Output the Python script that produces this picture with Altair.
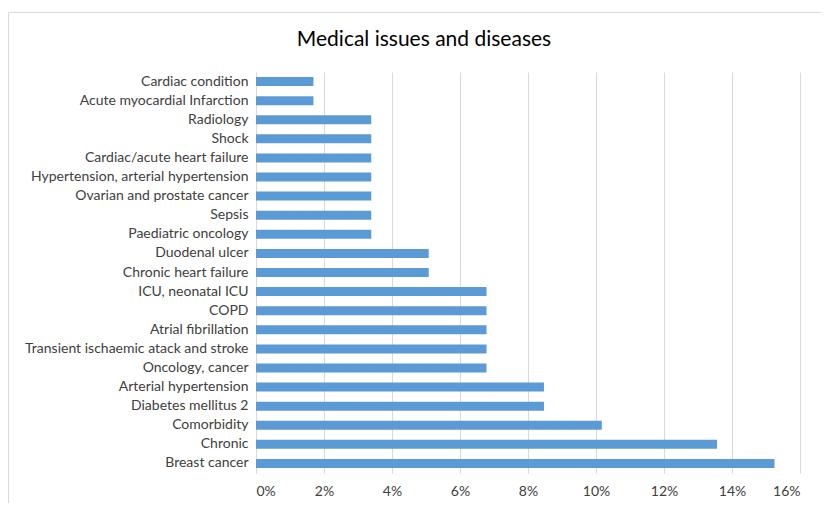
import altair as alt
import pandas as pd

categories = [
    "Cardiac condition",
    "Acute myocardial Infarction",
    "Radiology",
    "Shock",
    "Cardiac/acute heart failure",
    "Hypertension, arterial hypertension",
    "Ovarian and prostate cancer",
    "Sepsis",
    "Paediatric oncology",
    "Duodenal ulcer",
    "Chronic heart failure",
    "ICU, neonatal ICU",
    "COPD",
    "Atrial fibrillation",
    "Transient ischaemic atack and stroke",
    "Oncology, cancer",
    "Arterial hypertension",
    "Diabetes mellitus 2",
    "Comorbidity",
    "Chronic",
    "Breast cancer",
]
values = [1.69, 1.69, 3.39, 3.39, 3.39, 3.39, 3.39, 3.39, 3.39, 5.08, 5.08,
          6.78, 6.78, 6.78, 6.78, 6.78, 8.47, 8.47, 10.17, 13.56, 15.25]
values = [v / 100 for v in values]
x_ticks = [0, 0.02, 0.04, 0.06, 0.08, 0.10, 0.12, 0.14, 0.16]
title_text = "Medical issues and diseases"

df = pd.DataFrame({"category": categories, "value": values})

FONT = "Lato"

bars = alt.Chart(df).mark_bar(color="#5B9BD5", size=9).encode(
    x=alt.X("value:Q",
            scale=alt.Scale(domain=[0, 0.16], nice=False),
            axis=alt.Axis(format=".0%", values=x_ticks, title=None, grid=True,
                          gridColor="#D9D9D9", domain=False, ticks=False,
                          labelFont=FONT, labelFontSize=14, labelColor="#404040",
                          labelPadding=11)),
    y=alt.Y("category:N", sort=categories,
            scale=alt.Scale(paddingInner=0, paddingOuter=0.0),
            axis=alt.Axis(title=None, ticks=False, domain=True, domainColor="#D9D9D9",
                          labelFont=FONT, labelFontSize=14, labelColor="#404040",
                          labelPadding=8, labelLimit=300)),
)

border = alt.Chart(pd.DataFrame({"a": [0]})).mark_rect(
    fill=None, stroke="#D9D9D9", strokeWidth=1
).encode(
    x=alt.value(-247.5), x2=alt.value(600), y=alt.value(-59.5), y2=alt.value(460)
)

title = alt.Chart(pd.DataFrame({"t": [title_text]})).mark_text(
    font=FONT, fontSize=21, color="#000000", align="center", baseline="middle"
).encode(
    x=alt.value(168), y=alt.value(-32), text="t:N"
)

chart = alt.layer(border, bars, title).properties(
    width=544,
    height=401,
    padding={"left": 248, "top": 64, "right": 21, "bottom": 30},
    autosize=alt.AutoSizeParams(type="none"),
).configure_view(stroke=None)

chart.save("out.html", embed_options={"renderer": "svg", "actions": False})
